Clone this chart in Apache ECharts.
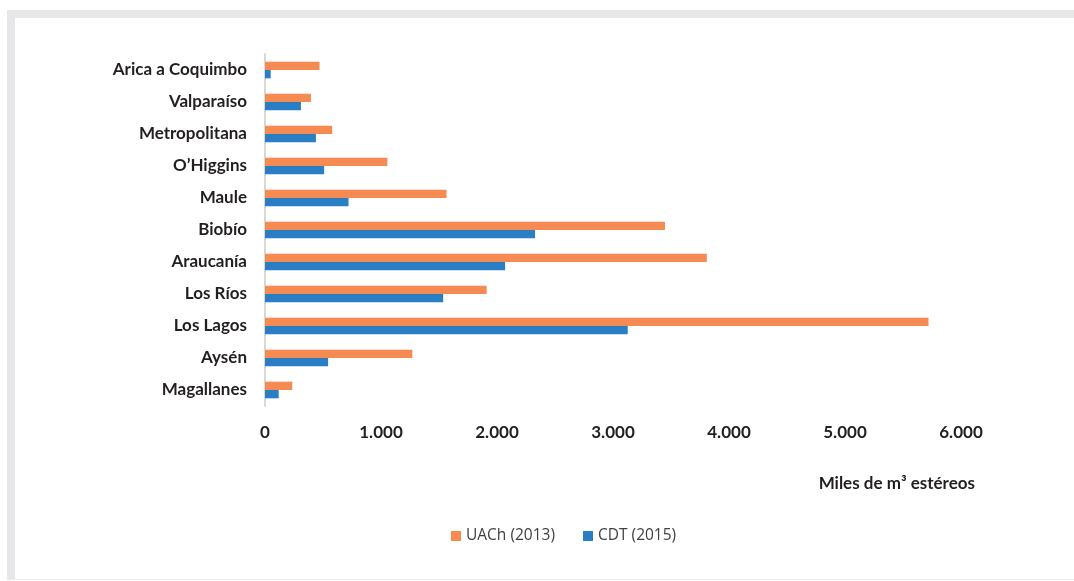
<!DOCTYPE html>
<html>
<head>
<meta charset="utf-8">
<script src="https://cdn.jsdelivr.net/npm/echarts@6/dist/echarts.min.js"></script>
<style>
  html, body { margin: 0; padding: 0; background: #ffffff; }
  #frame {
    position: absolute; left: 7px; top: 10px; width: 1100px; height: 570px;
    border-left: 8px solid #e6e7e8; border-top: 8px solid #e6e7e8;
    border-bottom: 1px solid #eeeeee; box-sizing: border-box;
  }
  #chart { position: absolute; left: 0; top: 0; width: 1074px; height: 581px; }
</style>
</head>
<body>
<div id="frame"></div>
<div id="chart"></div>
<script>
// Regions, listed north to south
const regions = [
  'Arica a Coquimbo', 'Valparaíso', 'Metropolitana', 'O’Higgins', 'Maule',
  'Biobío', 'Araucanía', 'Los Ríos', 'Los Lagos', 'Aysén', 'Magallanes'
];
// Thousands of stacked cubic metres
const uach2013 = [470, 396, 579, 1055, 1565, 3448, 3809, 1911, 5720, 1270, 235];
const cdt2015  = [49, 310, 439, 510, 720, 2328, 2070, 1536, 3127, 544, 118];
const seriesNames = ['UACh (2013)', 'CDT (2015)'];
const xTicks = { min: 0, max: 6000, step: 1000 };
const axisTitle = 'Miles de m³ estéreos';

const labelFont = 'Lato, "Open Sans", sans-serif';
const chart = echarts.init(document.getElementById('chart'), null, { renderer: 'canvas' });

chart.setOption({
  animation: false,
  backgroundColor: 'transparent',
  grid: { left: 265, right: 113, top: 54, bottom: 175, containLabel: false },
  legend: {
    data: seriesNames,
    left: 446,
    top: 523,
    itemWidth: 10,
    itemHeight: 10,
    itemGap: 28,
    icon: 'rect',
    textStyle: { fontFamily: '"Open Sans", sans-serif', fontSize: 15.5, color: '#404040' }
  },
  xAxis: {
    type: 'value',
    min: xTicks.min,
    max: xTicks.max,
    interval: xTicks.step,
    axisLine: { show: false },
    axisTick: { show: false },
    splitLine: { show: false },
    axisLabel: {
      margin: 18,
      fontFamily: labelFont,
      fontWeight: 'bold',
      fontSize: 17,
      color: '#231f20',
      formatter: v => String(v).replace(/\B(?=(\d{3})+(?!\d))/g, '.')
    }
  },
  yAxis: {
    type: 'category',
    data: regions,
    inverse: true,
    axisLine: { show: true, lineStyle: { color: '#d9d9d9', width: 2 } },
    axisTick: { show: false },
    axisLabel: {
      margin: 18,
      fontFamily: labelFont,
      fontWeight: 'bold',
      fontSize: 17,
      color: '#231f20'
    }
  },
  graphic: [{
    type: 'text',
    right: 99,
    top: 475,
    style: {
      text: axisTitle,
      font: 'bold 17px Lato, "Open Sans", sans-serif',
      fill: '#231f20'
    }
  }],
  series: [
    {
      name: seriesNames[0],
      type: 'bar',
      data: uach2013,
      barGap: '0%',
      barCategoryGap: '48%',
      itemStyle: { color: '#f68a53' }
    },
    {
      name: seriesNames[1],
      type: 'bar',
      data: cdt2015,
      barGap: '0%',
      barCategoryGap: '48%',
      itemStyle: { color: '#2a7fc4' }
    }
  ]
});
</script>
</body>
</html>
